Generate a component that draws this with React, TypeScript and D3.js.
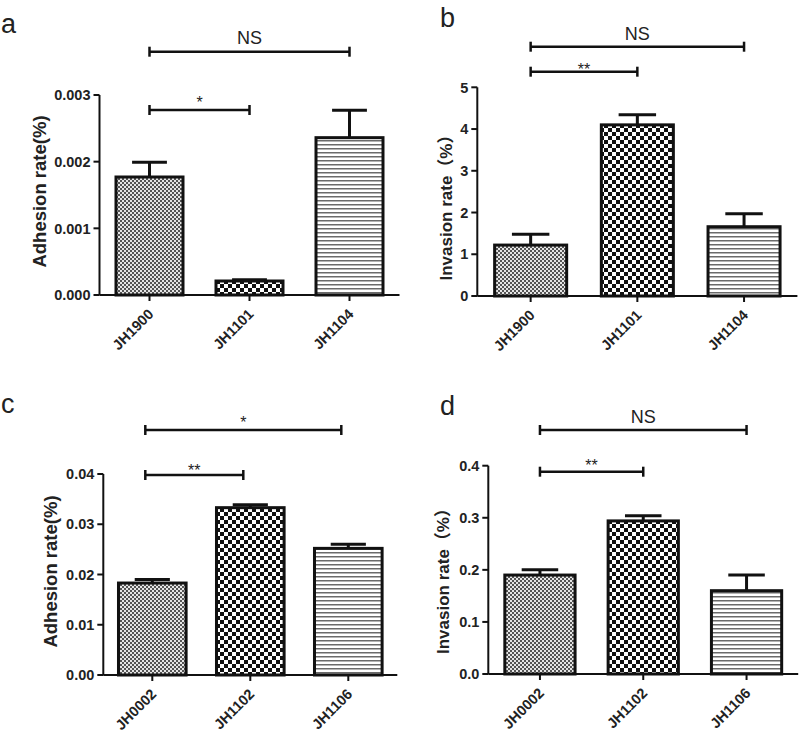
import React from "react";
import * as d3 from "d3";

// ---------- data ----------
const groupsTop = ["JH1900", "JH1101", "JH1104"];
const groupsBottom = ["JH0002", "JH1102", "JH1106"];

const adhesionTop = [0.00177, 0.00021, 0.00236];
const adhesionTopErr = [0.00022, 0.00002, 0.00041];
const invasionTop = [1.22, 4.1, 1.66];
const invasionTopErr = [0.26, 0.24, 0.31];

const adhesionBottom = [0.0183, 0.0333, 0.0252];
const adhesionBottomErr = [0.0007, 0.0006, 0.0008];
const invasionBottom = [0.19, 0.294, 0.16];
const invasionBottomErr = [0.01, 0.01, 0.03];

const ticksA = [0, 0.001, 0.002, 0.003];
const ticksB = [0, 1, 2, 3, 4, 5];
const ticksC = [0, 0.01, 0.02, 0.03, 0.04];
const ticksD = [0, 0.1, 0.2, 0.3, 0.4];

const sigA = [
  { from: 0, to: 2, label: "NS" },
  { from: 0, to: 1, label: "*" },
];
const sigB = [
  { from: 0, to: 2, label: "NS" },
  { from: 0, to: 1, label: "**" },
];
const sigC = [
  { from: 0, to: 2, label: "*" },
  { from: 0, to: 1, label: "**" },
];
const sigD = [
  { from: 0, to: 2, label: "NS" },
  { from: 0, to: 1, label: "**" },
];

// ---------- layout ----------
const FONT = "'Liberation Sans', Arial, 'Noto Sans CJK SC', sans-serif";
const patterns = ["url(#patFine)", "url(#patCheck)", "url(#patLines)"];

const panels = [
  {
    letter: "a", letterX: 1, letterY: 33,
    groups: groupsTop, values: adhesionTop, errors: adhesionTopErr, ticks: ticksA, fmt: ".3f",
    title: "Adhesion rate(%)", titleX: 45.5, titleY: 191.5, titleSize: 18.5,
    axisX: 99.5, y0: 295, yTop: 95, step: 100, bw: 0.67,
    sig: sigA, sigY: [51.7, 110], sigLabelY: [43.5, 107.5], sigShift: 0,
  },
  {
    letter: "b", letterX: 440, letterY: 27,
    groups: groupsTop, values: invasionTop, errors: invasionTopErr, ticks: ticksB, fmt: "d",
    title: "Invasion rate（%）", titleX: 452, titleY: 203.5, titleSize: 17,
    axisX: 477.3, y0: 296, yTop: 87.3, step: 106.7, bw: 0.675,
    sig: sigB, sigY: [46.7, 71.7], sigLabelY: [40, 75], sigShift: 0,
  },
  {
    letter: "c", letterX: 1, letterY: 413,
    groups: groupsBottom, values: adhesionBottom, errors: adhesionBottomErr, ticks: ticksC, fmt: ".2f",
    title: "Adhesion rate(%)", titleX: 56.5, titleY: 571.5, titleSize: 18.5,
    axisX: 103.3, y0: 675, yTop: 474, step: 98, bw: 0.69,
    sig: sigC, sigY: [430, 475], sigLabelY: [427.5, 476], sigShift: -7,
  },
  {
    letter: "d", letterX: 440, letterY: 415,
    groups: groupsBottom, values: invasionBottom, errors: invasionBottomErr, ticks: ticksD, fmt: ".1f",
    title: "Invasion rate（%）", titleX: 448.5, titleY: 577, titleSize: 17,
    axisX: 488.3, y0: 674, yTop: 465.7, step: 103.3, bw: 0.68,
    sig: sigD, sigY: [430, 471.7], sigLabelY: [423.3, 471], sigShift: 0,
  },
];

function Panel({ cfg }: { cfg: any }) {
  const yMax = cfg.ticks[cfg.ticks.length - 1];
  const x = d3
    .scaleBand<string>()
    .domain(cfg.groups)
    .range([cfg.axisX, cfg.axisX + 3 * cfg.step])
    .paddingInner(1 - cfg.bw)
    .paddingOuter((1 - cfg.bw) / 2);
  const y = d3.scaleLinear().domain([0, yMax]).range([cfg.y0, cfg.yTop]);
  const fmt = d3.format(cfg.fmt);
  const bw = x.bandwidth();
  const cx = (g: string) => (x(g) as number) + bw / 2;
  const xEnd = x.range()[1];

  return (
    <g>
      <text x={cfg.letterX} y={cfg.letterY} fontSize={27} fontFamily={FONT} fill="#222">
        {cfg.letter}
      </text>

      {/* bars */}
      {cfg.groups.map((g: string, i: number) => {
        const v = cfg.values[i];
        const e = cfg.errors[i];
        const top = y(v);
        const et = y(v + e);
        const capW = bw * 0.52;
        return (
          <g key={g}>
            <line x1={cx(g)} x2={cx(g)} y1={top} y2={et} stroke="#111" strokeWidth={3} />
            <line x1={cx(g) - capW / 2} x2={cx(g) + capW / 2} y1={et} y2={et} stroke="#111" strokeWidth={3} />
            <rect
              x={x(g)}
              y={top}
              width={bw}
              height={cfg.y0 - top}
              fill={patterns[i]}
              stroke="#111"
              strokeWidth={3}
            />
          </g>
        );
      })}

      {/* y axis */}
      <line x1={cfg.axisX} x2={cfg.axisX} y1={cfg.y0} y2={y(yMax)} stroke="#111" strokeWidth={2} />
      {cfg.ticks.map((t: number) => (
        <g key={t}>
          <line x1={cfg.axisX - 6} x2={cfg.axisX} y1={y(t)} y2={y(t)} stroke="#111" strokeWidth={2} />
          <text
            x={cfg.axisX - 9}
            y={y(t)}
            dy="0.36em"
            textAnchor="end"
            fontSize={14.5}
            fontWeight="bold"
            fontFamily={FONT}
            fill="#222"
          >
            {fmt(t)}
          </text>
        </g>
      ))}
      <text
        transform={`translate(${cfg.titleX},${cfg.titleY}) rotate(-90)`}
        textAnchor="middle"
        fontSize={cfg.titleSize}
        fontWeight="bold"
        fontFamily={FONT}
        fill="#222"
      >
        {cfg.title}
      </text>

      {/* x axis */}
      <line x1={cfg.axisX} x2={xEnd} y1={cfg.y0} y2={cfg.y0} stroke="#111" strokeWidth={2} />
      {cfg.groups.map((g: string) => (
        <g key={g}>
          <line x1={cx(g)} x2={cx(g)} y1={cfg.y0} y2={cfg.y0 + 6} stroke="#111" strokeWidth={2} />
          <text
            transform={`translate(${cx(g) + 5},${cfg.y0 + 20}) rotate(-45)`}
            textAnchor="end"
            fontSize={14.5}
            fontWeight="bold"
            fontFamily={FONT}
            fill="#222"
          >
            {g}
          </text>
        </g>
      ))}

      {/* significance */}
      {cfg.sig.map((s: any, i: number) => {
        const x1 = cx(cfg.groups[s.from]) + cfg.sigShift;
        const x2 = cx(cfg.groups[s.to]) + cfg.sigShift;
        const sy = cfg.sigY[i];
        const isNS = s.label === "NS";
        return (
          <g key={i}>
            <line x1={x1} x2={x2} y1={sy} y2={sy} stroke="#111" strokeWidth={2.5} />
            <line x1={x1} x2={x1} y1={sy - 5} y2={sy + 5} stroke="#111" strokeWidth={2.5} />
            <line x1={x2} x2={x2} y1={sy - 5} y2={sy + 5} stroke="#111" strokeWidth={2.5} />
            <text
              x={(x1 + x2) / 2}
              y={cfg.sigLabelY[i]}
              textAnchor="middle"
              fontSize={isNS ? 18 : 16}
              fontFamily={FONT}
              fill="#222"
            >
              {s.label}
            </text>
          </g>
        );
      })}
    </g>
  );
}

export default function App() {
  return (
    <svg
      width={800}
      height={735}
      style={{ position: "absolute", left: 0, top: 0, background: "#fff" }}
    >
      <defs>
        <pattern id="patFine" patternUnits="userSpaceOnUse" width={4} height={4}>
          <rect width={4} height={4} fill="#e6e6e6" />
          <rect x={0} y={0} width={2} height={2} fill="#555" />
          <rect x={2} y={2} width={2} height={2} fill="#555" />
        </pattern>
        <pattern id="patCheck" patternUnits="userSpaceOnUse" width={8} height={8}>
          <rect width={8} height={8} fill="#fff" />
          <rect x={0} y={0} width={4} height={4} fill="#111" />
          <rect x={4} y={4} width={4} height={4} fill="#111" />
        </pattern>
        <pattern id="patLines" patternUnits="userSpaceOnUse" width={8} height={4}>
          <rect width={8} height={4} fill="#fff" />
          <rect x={0} y={0} width={8} height={1.5} fill="#6a6a6a" />
        </pattern>
      </defs>
      <rect width={800} height={735} fill="#fff" />
      {panels.map((p) => (
        <Panel key={p.letter} cfg={p} />
      ))}
    </svg>
  );
}
